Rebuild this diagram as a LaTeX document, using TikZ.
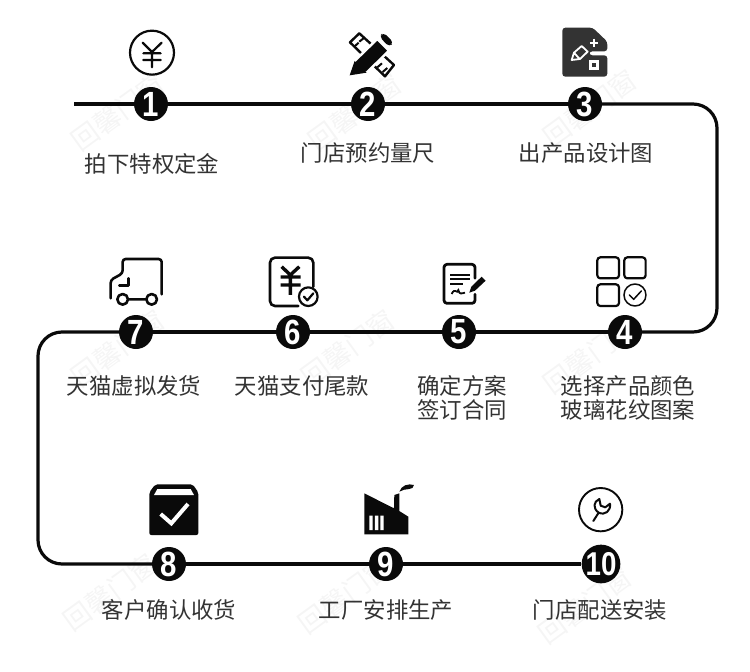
\documentclass[tikz,border=0pt]{standalone}
\usepackage{fontspec}
\setmainfont{Noto Sans CJK SC}
\newfontfamily\digitfont{Liberation Sans}[BoldFont={Liberation Sans Bold}, FakeStretch=0.84]
\definecolor{inkblack}{HTML}{0A0A0A}
\definecolor{labelgray}{HTML}{333333}
\definecolor{plategray}{HTML}{333333}
\definecolor{markgray}{HTML}{F5F5F5}

\begin{document}
\begin{tikzpicture}[x=1pt, y=-1pt]
    \tikzstyle{every node}=[inner sep=0pt]
    \tikzstyle{badge}=[circle, fill=inkblack, text=white, minimum size=34pt, font=\digitfont\fontsize{35}{35}\selectfont\bfseries]
    \tikzstyle{caption}=[text=labelgray, align=center, font=\fontsize{22.4}{24.5}\selectfont]
    \tikzstyle{stamp}=[text=markgray, rotate=36, font=\fontsize{27}{27}\selectfont]
    \tikzstyle{flow}=[inkblack, line width=3.2pt]
    \tikzstyle{zoomed}=[x=0.3333pt, y=-0.3333pt]
    \tikzstyle{iconline}=[inkblack, line width=2.2pt, line join=round, line cap=round]

    \useasboundingbox (0,0) rectangle (750,672);

% The faint stamps lie under everything else.

    \node [stamp] (s1) at (118,112) {回馨门窗};
    \node [stamp] (s2) at (355,112) {回馨门窗};
    \node [stamp] (s3) at (590,108) {回馨门窗};
    \node [stamp] (s4) at (118,348) {回馨门窗};
    \node [stamp] (s5) at (348,348) {回馨门窗};
    \node [stamp] (s6) at (590,355) {回馨门窗};
    \node [stamp] (s7) at (110,592) {回馨门窗};
    \node [stamp] (s8) at (345,595) {回馨门窗};
    \node [stamp] (s9) at (585,605) {回馨门窗};

% The badges along the route, then the captions below them.

    \node [badge] (n1) at (151,104) {1};
    \node [badge] (n2) at (368,104) {2};
    \node [badge] (n3) at (585,104) {3};
    \node [badge] (n4) at (625,332) {4};
    \node [badge] (n5) at (459,332) {5};
    \node [badge] (n6) at (293,332) {6};
    \node [badge] (n7) at (136,332) {7};
    \node [badge] (n8) at (169,564) {8};
    \node [badge] (n9) at (386,564) {9};
    \node [badge] (n10) at (601,564) {\fontsize{33}{33}\selectfont 10};

    \node [caption] (t1) at (152,164) {拍下特权定金};
    \node [caption] (t2) at (368,153) {门店预约量尺};
    \node [caption] (t3) at (586,153) {出产品设计图};
    \node [caption] (t4) at (628,398) {选择产品颜色\\玻璃花纹图案};
    \node [caption] (t5) at (462,398) {确定方案\\签订合同};
    \node [caption] (t6) at (302,386) {天猫支付尾款};
    \node [caption] (t7) at (134,386) {天猫虚拟发货};
    \node [caption] (t8) at (169,610) {客户确认收货};
    \node [caption] (t9) at (386,610) {工厂安排生产};
    \node [caption] (t10) at (600,610) {门店配送安装};

% The route runs from node to node, with four rounded bends.

    \coordinate (start) at (74,104);
    \coordinate (bend1) at (717,104);
    \coordinate (bend2) at (717,332);
    \coordinate (bend3) at (38,332);
    \coordinate (bend4) at (38,564);
    \draw [flow] (start) -- (n1);
    \draw [flow] (n1) -- (n2);
    \draw [flow] (n2) -- (n3);
    \draw [flow, rounded corners=24pt] (n3) -- (bend1) -- (bend2) -- (n4);
    \draw [flow] (n4) -- (n5);
    \draw [flow] (n5) -- (n6);
    \draw [flow] (n6) -- (n7);
    \draw [flow, rounded corners=24pt] (n7) -- (bend3) -- (bend4) -- (n8);
    \draw [flow] (n8) -- (n9);
    \draw [flow] (n9) -- (n10);

% Icons, in the coordinates of three times enlarged crops.

    \begin{scope}[shift={(90,10)}, zoomed]
        \draw [iconline] (186,128) circle (66);
        \draw [iconline] (158,98) -- (186,126) -- (215,98) (160,130) -- (212,130) (160,150) -- (212,150) (186,126) -- (186,172);
        % ruler and pencil
        \draw [inkblack, line width=2.4pt, fill=white, line join=round] (780,97) -- (808,70) -- (912,165) -- (885,199) -- cycle;
        \draw [inkblack, line width=2pt] (793,110) -- (806,98) (808,95) -- (822,84) (862,172) -- (876,160) (878,186) -- (892,174);
        \fill [inkblack, draw=white, line width=2.4pt, line join=round] (779,196) -- (794,153) -- (862,87) -- (897,122) -- (830,188) -- cycle;
        \fill [inkblack] (779,196) -- (794,153) -- (830,188) -- cycle;
        \fill [inkblack, rounded corners=4pt] (868,80) -- (880,67) -- (911,97) -- (898,111) -- cycle;
    \end{scope}

    \begin{scope}[shift={(510,10)}, zoomed]
        \fill [plategray, rounded corners=3pt] (157,53) -- (248,53) -- (292,95) -- (292,124) -- (238,124) -- (238,136) -- (292,136) -- (292,200) -- (157,200) -- cycle;
        \draw [white, line width=1.8pt, line join=round] (185,150) -- (192,128) -- (215,108) -- (233,125) -- (210,147) -- cycle (192,128) -- (208,146);
        \draw [white, line width=2.2pt] (240,98) -- (265,98) (252,86) -- (252,110);
        \draw [white, line width=3pt] (243,156) rectangle (263,176);
    \end{scope}

    \begin{scope}[shift={(420,245)}, zoomed]
        \draw [iconline, rounded corners=3pt] (532,37) rectangle (597,100);
        \draw [iconline, rounded corners=3pt] (613,37) rectangle (677,100);
        \draw [iconline, rounded corners=3pt] (532,118) rectangle (597,183);
        \draw [iconline, line width=1.5pt] (645,150) circle (33);
        \draw [iconline, line width=1.5pt] (628,150) -- (641,163) -- (664,138);
        % contract and pen
        \draw [iconline, line width=2.8pt, rounded corners=3pt] (165,100) -- (165,58) -- (72,58) -- (72,175) -- (165,175) -- (165,148);
        \draw [inkblack, line width=1.8pt] (90,90) -- (150,90) (90,103) -- (150,103) (90,116) -- (130,116);
        \draw [inkblack, line width=1.8pt] (95,147) .. controls (105,125) and (110,150) .. (115,135) .. controls (118,150) and (125,145) .. (135,143);
        \fill [inkblack] (148,143) -- (154,125) -- (185,95) -- (197,107) -- (165,137) -- cycle;
    \end{scope}

    \begin{scope}[shift={(90,245)}, zoomed]
        \draw [iconline, line width=2.6pt, rounded corners=3pt] (62,160) -- (62,105) -- (98,85) -- (98,42) -- (215,42) -- (215,148);
        \draw [iconline, line width=2.6pt] (115,100) -- (115,122) -- (88,122);
        \draw [iconline, line width=2.6pt] (98,163) circle (16) (185,163) circle (16) (114,163) -- (169,163);
        % bill with yen
        \draw [iconline, line width=2.6pt, rounded corners=5pt] (625,183) -- (540,183) -- (540,38) -- (670,38) -- (670,125);
        \draw [inkblack, line width=3.4pt] (575,65) -- (601,90) -- (628,65) (572,96) -- (632,96) (572,120) -- (632,120) (601,90) -- (601,150);
        \draw [iconline, line width=2.2pt] (655,155) circle (28);
        \draw [iconline, line width=2.2pt] (642,155) -- (652,166) -- (670,145);
    \end{scope}

    \begin{scope}[shift={(130,475)}, zoomed]
        \fill [inkblack, rounded corners=2pt] (76,28) -- (188,28) -- (205,52) -- (205,180) -- (58,180) -- (58,52) -- cycle;
        \fill [white] (82,42) -- (182,42) -- (192,60) -- (72,60) -- cycle;
        \draw [white, line width=4pt, line join=miter] (92,117) -- (124,145) -- (174,87);
        % factory
        \fill [inkblack] (703,55) -- (792,100) -- (793,60) -- (808,55) -- (808,108) -- (835,125) -- (835,178) -- (703,178) -- cycle;
        \fill [white] (718,122) rectangle (728,165) (735,122) rectangle (745,165) (751,122) rectangle (761,165);
        \fill [inkblack] (808,50) .. controls (815,30) and (835,25) .. (852,30) .. controls (852,48) and (825,38) .. (808,50) -- cycle;
    \end{scope}

    \begin{scope}[shift={(530,475)}, zoomed]
        \draw [iconline, line width=1.9pt] (212,104) circle (65);
        \draw [iconline, line width=2pt] (190,138) -- (206,113) .. controls (188,100) and (190,80) .. (208,72) -- (212,92) -- (226,97) -- (240,86) .. controls (243,108) and (225,122) .. (206,113);
    \end{scope}

\end{tikzpicture}
\end{document}
